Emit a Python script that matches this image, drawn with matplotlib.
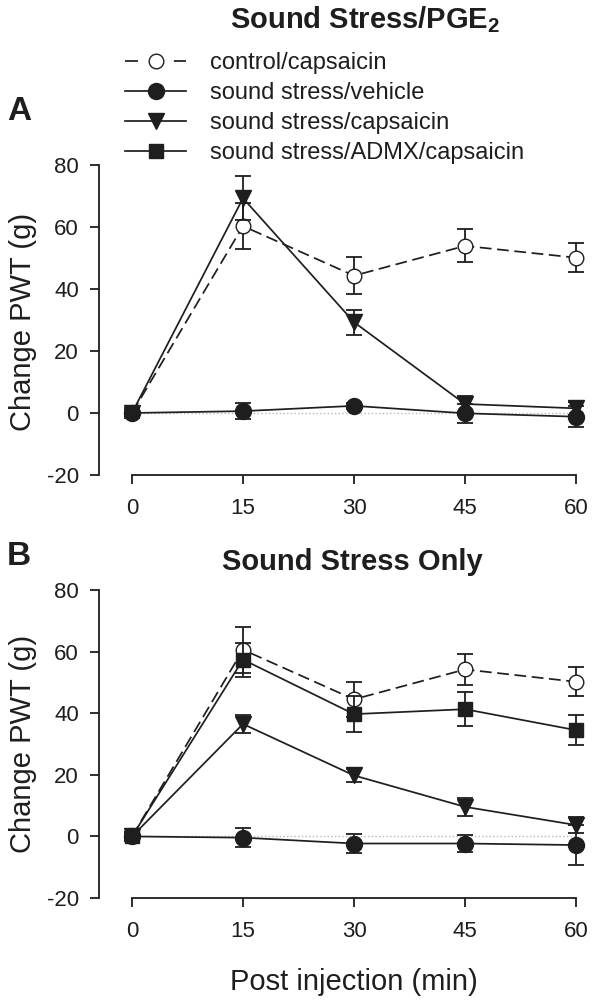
import matplotlib
matplotlib.use("Agg")
import matplotlib.pyplot as plt
from matplotlib.lines import Line2D

plt.rcParams['font.family'] = ['Liberation Sans', 'DejaVu Sans']
plt.rcParams['mathtext.fontset'] = 'custom'
plt.rcParams['mathtext.rm'] = 'Liberation Sans'
plt.rcParams['mathtext.bf'] = 'Liberation Sans:bold'
plt.rcParams['lines.scale_dashes'] = False
plt.rcParams['axes.unicode_minus'] = False

INK = '#1e1e1e'

# --- data ---
times = [0, 15, 30, 45, 60]

# panel A: sound stress / PGE2
ctrl_a = [0, 60.3, 44.3, 53.9, 50.1]
ctrl_a_err = [1.0, 7.3, 6.0, 5.3, 4.7]
veh_a = [0, 0.6, 2.3, -0.1, -1.2]
veh_a_err = [1.5, 2.5, 1.0, 3.0, 3.4]
cap_a = [0, 69.3, 29.3, 2.9, 1.5]
cap_a_err = [1.0, 7.2, 4.0, 2.5, 2.0]

# panel B: sound stress only
ctrl_b = [0, 60.6, 44.5, 54.2, 50.2]
ctrl_b_err = [1.0, 7.5, 5.7, 5.0, 4.7]
veh_b = [0, -0.4, -2.3, -2.3, -2.8]
veh_b_err = [1.5, 3.1, 3.2, 2.9, 6.5]
cap_b = [0, 36.5, 19.8, 9.6, 3.7]
cap_b_err = [1.0, 3.0, 2.0, 3.0, 2.5]
admx_b = [0, 57.4, 39.7, 41.3, 34.5]
admx_b_err = [1.5, 5.5, 5.9, 5.6, 4.9]

labels = ['control/capsaicin', 'sound stress/vehicle',
          'sound stress/capsaicin', 'sound stress/ADMX/capsaicin']
yticks = [-20, 0, 20, 40, 60, 80]

styles = {
    'ctrl': dict(marker='o', mfc='white', ms=10.5, ls='--', dashes=(8.5, 4)),
    'veh': dict(marker='o', mfc=INK, ms=11.5, ls='-'),
    'cap': dict(marker='v', mfc=INK, ms=11.5, ls='-'),
    'admx': dict(marker='s', mfc=INK, ms=9.5, ls='-'),
}


def draw_series(ax, y, err, key, z):
    st = dict(styles[key])
    ax.errorbar(times, y, yerr=err, color=INK, mec=INK, lw=1.25, elinewidth=1.3,
                capsize=6, capthick=1.3, clip_on=False, zorder=z, **st)


def setup_axes(ax):
    ax.set_xlim(-4.46, 60)
    ax.set_ylim(-20, 80)
    for s in ['top', 'right']:
        ax.spines[s].set_visible(False)
    ax.spines['bottom'].set_bounds(0, 60)
    ax.spines['left'].set_bounds(-20, 80)
    for s in ['bottom', 'left']:
        ax.spines[s].set_linewidth(1.3)
        ax.spines[s].set_color(INK)
    ax.set_xticks(times)
    ax.set_yticks(yticks)
    ax.tick_params(axis='both', direction='out', length=6.5, width=1.3,
                   colors=INK, labelsize=16)
    ax.tick_params(axis='x', pad=10)
    ax.tick_params(axis='y', pad=8)
    # faint dotted reference line at zero
    ax.plot([0, 60], [0, 0], color='#b8b8b8', ls=':', lw=1.0, zorder=1)


fig = plt.figure(figsize=(5.96, 10.08), dpi=100)
ax_a = fig.add_axes([0.1661, 0.5288, 0.8003, 0.3075])
ax_b = fig.add_axes([0.1661, 0.1091, 0.8003, 0.3056])

setup_axes(ax_a)
draw_series(ax_a, ctrl_a, ctrl_a_err, 'ctrl', 3)
draw_series(ax_a, cap_a, cap_a_err, 'cap', 4)
draw_series(ax_a, veh_a, veh_a_err, 'veh', 5)

setup_axes(ax_b)
draw_series(ax_b, ctrl_b, ctrl_b_err, 'ctrl', 3)
draw_series(ax_b, cap_b, cap_b_err, 'cap', 4)
draw_series(ax_b, veh_b, veh_b_err, 'veh', 5)
draw_series(ax_b, admx_b, admx_b_err, 'admx', 6)

# legend (dashed handle shows one short dash on each side of the circle)
handles = []
for key in ['ctrl', 'veh', 'cap', 'admx']:
    st = dict(styles[key])
    if key == 'ctrl':
        st['dashes'] = (9.4, 25.8)
    handles.append(Line2D([], [], color=INK, mec=INK, lw=1.25, **st))
fig.legend(handles, labels, loc='upper left',
           bbox_to_anchor=(125 / 596, 1 - 52 / 1008), frameon=False,
           fontsize=17, handlelength=2.6, handletextpad=1.0,
           labelspacing=0.34, borderpad=0, borderaxespad=0, labelcolor=INK)

# titles and labels
fig.text(365 / 596, 1 - 28 / 1008, r'Sound Stress/PGE$_\mathbf{2}$',
         ha='center', va='baseline', fontsize=21, fontweight='bold', color=INK)
fig.text(352 / 596, 1 - 570 / 1008, 'Sound Stress Only',
         ha='center', va='baseline', fontsize=21, fontweight='bold', color=INK)
fig.text(19 / 596, 1 - 120 / 1008, 'A', ha='center', va='baseline',
         fontsize=24, fontweight='bold', color=INK)
fig.text(19 / 596, 1 - 565 / 1008, 'B', ha='center', va='baseline',
         fontsize=24, fontweight='bold', color=INK)

fig.text(23 / 596, 1 - 322 / 1008, 'Change PWT (g)', rotation=90,
         ha='center', va='center', fontsize=21, color=INK)
fig.text(23 / 596, 1 - 744 / 1008, 'Change PWT (g)', rotation=90,
         ha='center', va='center', fontsize=21, color=INK)
fig.text(354 / 596, 1 - 982 / 1008, 'Post injection (min)',
         ha='center', va='center', fontsize=21, color=INK)

fig.savefig('out.png', dpi=100)
